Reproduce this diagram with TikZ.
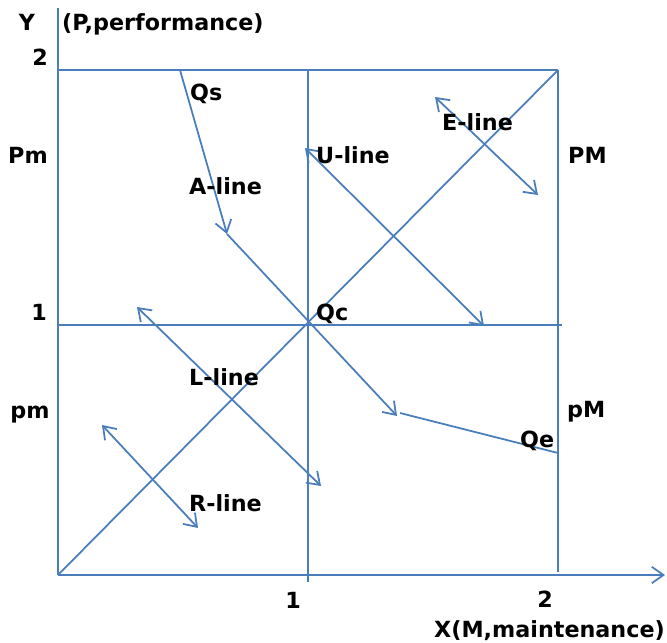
\documentclass[tikz,border=0pt]{standalone}
\usepackage{fontspec}
\setmainfont{DejaVu Sans}
\usetikzlibrary{arrows.meta}
\definecolor{lineblue}{RGB}{74,126,187}
\tikzset{>={Straight Barb[length=10pt,width=14pt]}}
\tikzset{ln/.style={draw=lineblue,line width=1.5pt}}
\tikzset{lbl/.style={font=\bfseries\fontsize{19}{19}\selectfont,inner sep=0pt,text height=13.9pt,text depth=0pt}}
\begin{document}
\begin{tikzpicture}[x=0.03cm,y=-0.03cm]
  \useasboundingbox (0,0) rectangle (667,643);
  \coordinate (O) at (58,575);
  \coordinate (Ytop) at (58,8);
  \coordinate (Xend) at (665,575);
  \coordinate (Y2) at (58,70);
  \coordinate (Y1) at (58,325);
  \coordinate (X1top) at (308,70);
  \coordinate (X1bot) at (308,582);
  \coordinate (X2top) at (558,70);
  \coordinate (X2bot) at (558,572);
  \coordinate (R1end) at (562,325);
  \coordinate (Qs) at (180,70);
  \coordinate (As) at (227,234);
  \coordinate (Qc) at (308,325);
  \coordinate (Ae) at (397,416);
  \coordinate (Qe0) at (400,413);
  \coordinate (Qe) at (558,453);
  \coordinate (U1) at (305,148);
  \coordinate (U2) at (484,326);
  \coordinate (E1) at (435,97);
  \coordinate (E2) at (538,195);
  \coordinate (L1) at (137,307);
  \coordinate (L2) at (321,486);
  \coordinate (R1) at (102,425);
  \coordinate (R2) at (198,528);
  \draw[ln,->] (O) -- (Xend);
  \draw[ln] (O) -- (Ytop);
  \draw[ln] (Y2) -- (X2top);
  \draw[ln] (Y1) -- (R1end);
  \draw[ln] (X1top) -- (X1bot);
  \draw[ln] (X2top) -- (X2bot);
  \draw[ln] (O) -- (X2top);
  \draw[ln,->] (Qs) -- (As);
  \draw[ln,->] (As) -- (Ae);
  \draw[ln] (Qe0) -- (Qe);
  \draw[ln,<->] (U1) -- (U2);
  \draw[ln,<->] (E1) -- (E2);
  \draw[ln,<->] (L1) -- (L2);
  \draw[ln,<->] (R1) -- (R2);
  \node[lbl] (ylab) at (27,22) {Y};
  \node[lbl,anchor=west] (pperf) at (62,22) {(P,performance)};
  \node[lbl] (ytwo) at (40,57) {2};
  \node[lbl] (yone) at (39,312) {1};
  \node[lbl] (Pm) at (28,155) {Pm};
  \node[lbl] (pm) at (30,410) {pm};
  \node[lbl,anchor=west] (PM) at (568,155) {PM};
  \node[lbl,anchor=west] (pM) at (567,409) {pM};
  \node[lbl,anchor=west] (Qslab) at (190,92) {Qs};
  \node[lbl,anchor=west] (Qclab) at (316,312) {Qc};
  \node[lbl,anchor=west] (Qelab) at (520,439) {Qe};
  \node[lbl,anchor=west] (Ulab) at (316,155) {U-line};
  \node[lbl,anchor=west] (Elab) at (442,122) {E-line};
  \node[lbl,anchor=west] (Alab) at (189,186) {A-line};
  \node[lbl,anchor=west] (Llab) at (189,377) {L-line};
  \node[lbl,anchor=west] (Rlab) at (189,503) {R-line};
  \node[lbl] (xone) at (293,600) {1};
  \node[lbl] (xtwo) at (545,599) {2};
  \node[lbl,anchor=east] (mmaint) at (665,629) {X(M,maintenance)};
\end{tikzpicture}
\end{document}
